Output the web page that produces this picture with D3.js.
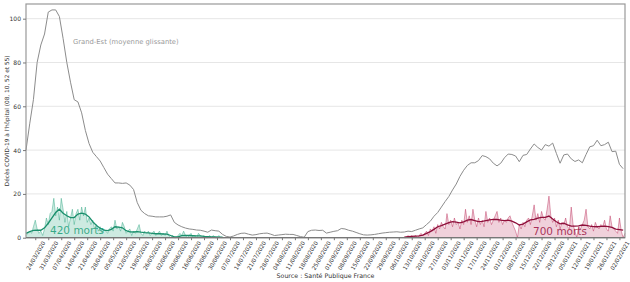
<!DOCTYPE html>
<html><head><meta charset="utf-8">
<script src="https://cdn.jsdelivr.net/npm/d3@7"></script>
<style>body{margin:0;background:#fff}svg{display:block;font-family:"DejaVu Sans",sans-serif}</style>
</head><body><svg id="c" width="630" height="282"></svg>
<script>
// ---- data ----
const startDate = "2020-03-19";
// Grand-Est rolling average, one value every 2 days from startDate
const greyStep = 2;
const greyAvg = [40,52,63,80,88,93,103,104,104,101,91,80,71,63,62,57,49,43,39,37,35,32,29,27,25,25,24.8,25,24,22,16,12.5,11,10,9.8,9.5,9.5,9.5,9.8,10.4,7,5.8,5,4.4,4,3.8,3.5,3.4,3,2.5,3.5,3.2,3,1.5,0.6,0.3,0.8,1.5,2,2.1,1.6,1.2,1.4,1.8,2,2.1,1.6,1,1.2,1.4,1.6,1.5,1.5,1,0.5,0.2,2.8,3.4,3.5,3.3,3.4,2.1,2.5,2.9,3.2,4.2,4,3.4,3,2.4,1.8,1.3,1.2,1.3,1.5,1.8,2.1,2.3,2.5,2.6,2.7,2.5,2.6,3,2.8,3.4,4,4.5,6,7.5,9.8,11.5,14,16.5,18.8,21.8,24.5,28,30.8,33,34.2,34.2,35.2,37.5,37,36,34,32.8,34,36.5,38.2,38,37.3,34.7,37.6,38,40.5,42.8,41.2,40,42.5,41.8,43.2,38.5,34,37.8,38.2,36,34.8,35.5,34.2,38,41.5,42,44.5,42,42.5,43.6,39.3,39.5,33.5,31.5];
// first wave (teal): daily values from startDate
const wave1Daily = [1,2,3,2,5,8,4,2,3,1,4,9,6,11,12,18,10,14,8,18,13,7,12,5,9,13,6,11,13,8,14,10,14,7,9,6,8,4,6,3,5,2,4,3,2,4,5,3,8,4,5,3,7,5,2,3,4,1,3,2,4,6,2,1,3,2,3,1,2,3,1,2,3,1,2,1,3,1,0,1,0,0,1,2,1,3,1,0,1,2,0,1,0,2,1,0,1,0,0,1,0,1,0,0,1,0,0,0];
// first wave rolling average, every 2 days from startDate
const wave1Avg = [2,2.8,3.3,3.4,3.4,4.5,6.6,9,11.5,13,11.2,10,9.2,9.2,10.8,11.2,10.8,9.5,7.3,5.6,4.3,3.5,3.2,3.8,5,4.8,4.5,3.2,2.7,2.6,2.8,2.5,2.3,2.2,2,1.8,1.8,1.7,1.6,1,0.4,0.4,0.9,1.1,1,0.9,0.8,0.8,0.6,0.5,0.4,0.4,0.3,0.2];
// second wave (crimson): starts 204 days after startDate
const wave2Offset = 204;
const wave2Daily = [0,0,1,0,1,0,1,0,1,2,1,2,3,1,4,3,5,2,6,4,7,5,4,11,6,8,5,9,6,7,4,8,6,13,7,10,6,13,8,5,9,6,8,5,12,7,9,6,8,10,12,7,9,6,8,7,9,10,7,5,3,0,6,4,7,5,8,9,6,10,15,8,11,7,12,9,8,13,19,10,7,9,5,8,4,7,6,9,5,4,14,6,3,0,5,4,6,8,13,5,4,6,3,7,5,4,6,5,8,4,3,10,5,4,3,2,9,3,0,2];
const wave2Avg = [0.3,0.5,0.6,0.7,0.8,1.2,2,2.8,3.8,5,5.5,6.2,6.9,7.3,7.1,6.8,7.2,8,8.3,7.8,7.3,7.5,7.8,8.1,8.4,8.3,8,7.8,8,7.6,6.8,5.8,6.2,7.2,8.1,8.4,8.9,9.3,9.3,9.9,8.5,7.3,6.3,6.6,5.9,5.3,5.3,5.4,5.8,5.6,5.3,5.1,5,5.2,5.3,5.1,4.7,3.9,3.7,3.5];
const yTicks = [0,20,40,60,80,100];
const xTickLabels = ["24/03/2020","31/03/2020","07/04/2020","14/04/2020","21/04/2020","28/04/2020","05/05/2020","12/05/2020","19/05/2020","26/05/2020","02/06/2020","09/06/2020","16/06/2020","23/06/2020","30/06/2020","07/07/2020","14/07/2020","21/07/2020","28/07/2020","04/08/2020","11/08/2020","18/08/2020","25/08/2020","01/09/2020","08/09/2020","15/09/2020","22/09/2020","29/09/2020","06/10/2020","13/10/2020","20/10/2020","27/10/2020","03/11/2020","10/11/2020","17/11/2020","24/11/2020","01/12/2020","08/12/2020","15/12/2020","22/12/2020","29/12/2020","05/01/2021","12/01/2021","19/01/2021","26/01/2021","02/02/2021"];
const endDate = "2021-02-05";
const texts = {ylabel:"Décès COVID-19 à l'hôpital (08, 10, 52 et 55)", source:"Source : Santé Publique France", grey:"Grand-Est (moyenne glissante)", w1:"420 morts", w2:"700 morts"};

// ---- chart ----
const svg = d3.select("#c");
const parse = d3.timeParse("%Y-%m-%d");
const parseFr = d3.timeParse("%d/%m/%Y");
const d0 = parse(startDate);
const day = n => d3.timeDay.offset(d0, n);
const L=26, R=625, T=4, B=237.7;
const x = d3.scaleTime().domain([d0, parse(endDate)]).range([L, R]);
const y = d3.scaleLinear().domain([0, 106.7]).range([B, T]);

const grey = greyAvg.map((v,i)=>({d:day(i*greyStep), v}));
const w1d = wave1Daily.map((v,i)=>({d:day(i), v}));
const w1a = wave1Avg.map((v,i)=>({d:day(i*2), v}));
const w2d = wave2Daily.map((v,i)=>({d:day(wave2Offset+i), v}));
const w2a = wave2Avg.map((v,i)=>({d:day(wave2Offset+i*2), v}));

// grid
svg.append("g").selectAll("line").data(yTicks.filter(t=>t>0)).join("line")
  .attr("x1",L).attr("x2",R).attr("y1",d=>y(d)).attr("y2",d=>y(d))
  .attr("stroke","#e6e6e6").attr("stroke-width",1);

const line = d3.line().x(d=>x(d.d)).y(d=>y(d.v));
const area = d3.area().x(d=>x(d.d)).y0(y(0)).y1(d=>y(d.v));

svg.append("path").datum(w1d).attr("d",area).attr("fill","#1b9e77").attr("fill-opacity",0.22);
svg.append("path").datum(w1d).attr("d",line).attr("fill","none").attr("stroke","#1b9e77").attr("stroke-opacity",0.45).attr("stroke-width",0.9);
svg.append("path").datum(w1a).attr("d",line).attr("fill","none").attr("stroke","#1a8f6c").attr("stroke-width",1.3);

svg.append("path").datum(w2d).attr("d",area).attr("fill","#b5184a").attr("fill-opacity",0.2);
svg.append("path").datum(w2d).attr("d",line).attr("fill","none").attr("stroke","#b5184a").attr("stroke-opacity",0.45).attr("stroke-width",0.9);
svg.append("path").datum(w2a).attr("d",line).attr("fill","none").attr("stroke","#8e0f3a").attr("stroke-width",1.3);

svg.append("path").datum(grey).attr("d",line).attr("fill","none").attr("stroke","#8c8c8c").attr("stroke-width",1);

// frame
svg.append("rect").attr("x",L).attr("y",T).attr("width",R-L).attr("height",B-T)
  .attr("fill","none").attr("stroke","#999").attr("stroke-width",1.2);
svg.append("line").attr("x1",L).attr("x2",R).attr("y1",B).attr("y2",B).attr("stroke","#777").attr("stroke-width",1.2);

// y axis
const ya = svg.append("g").attr("transform",`translate(${L},0)`)
  .call(d3.axisLeft(y).tickValues(yTicks).tickSize(3).tickPadding(2));
ya.select(".domain").remove();
ya.selectAll("line").attr("stroke","#777");
ya.selectAll("text").attr("font-size",6).attr("fill","#333").attr("font-family","DejaVu Sans");

// x axis
const xDates = xTickLabels.map(parseFr);
const xa = svg.append("g").attr("transform",`translate(0,${B})`)
  .call(d3.axisBottom(x).tickValues(xDates).tickSize(2.5).tickFormat((d,i)=>xTickLabels[i]));
xa.select(".domain").remove();
xa.selectAll("line").attr("stroke","#777");
xa.selectAll("text").attr("font-size",5.6).attr("fill","#333").attr("font-family","DejaVu Sans")
  .attr("text-anchor","middle").attr("dy",null).attr("y",null)
  .attr("dominant-baseline","central")
  .attr("transform","translate(0,17.8) rotate(-60)");

// labels
svg.append("text").attr("transform",`translate(7,${(T+B)/2}) rotate(-90)`).attr("text-anchor","middle")
  .attr("dominant-baseline","central").attr("font-size",5.8).attr("fill","#333").text(texts.ylabel);
svg.append("text").attr("x",(L+R)/2).attr("y",277.5).attr("text-anchor","middle")
  .attr("font-size",6.3).attr("fill","#333").text(texts.source);
svg.append("text").attr("x",73).attr("y",44).attr("font-size",6.8).attr("fill","#999").text(texts.grey);
svg.append("text").attr("x",50).attr("y",234).attr("font-size",10.5).attr("fill","#1b9e77").attr("fill-opacity",0.85).text(texts.w1);
svg.append("text").attr("x",533).attr("y",235).attr("font-size",10.5).attr("fill","#9b1040").attr("fill-opacity",0.85).text(texts.w2);
</script></body></html>
